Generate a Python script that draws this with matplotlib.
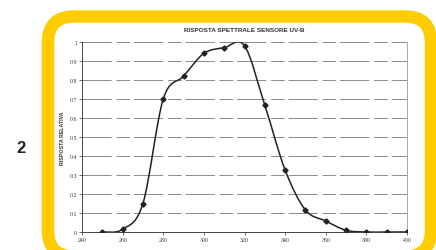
import numpy as np
import matplotlib
matplotlib.use("Agg")
import matplotlib.pyplot as plt
from matplotlib.patches import FancyBboxPatch, PathPatch
from matplotlib.path import Path

# data
wavelength = [250, 260, 270, 280, 290, 300, 310, 320, 330, 340, 350, 360, 370, 380, 390, 400]
response = [0.0, 0.014, 0.15, 0.70, 0.82, 0.94, 0.97, 0.98, 0.667, 0.326, 0.116, 0.058, 0.009, 0.0, 0.0, 0.0]
y_ticks = [0, 0.1, 0.2, 0.3, 0.4, 0.5, 0.6, 0.7, 0.8, 0.9, 1]
y_labels = ["0", "0.1", "0.2", "0.3", "0.4", "0.5", "0.6", "0.7", "0.8", "0.9", "1"]
x_ticks = [240, 260, 280, 300, 320, 340, 360, 380, 400]

W, H = 436, 251
fig = plt.figure(figsize=(W / 100, H / 100), dpi=100)

# background layer in pixel coordinates
bg = fig.add_axes([0, 0, 1, 1])
bg.set_xlim(0, W)
bg.set_ylim(H, 0)
bg.axis("off")
box = FancyBboxPatch((48, 17.5), 383, 240, boxstyle="round,pad=0,rounding_size=26",
                     facecolor="white", edgecolor="#FFCC00", linewidth=9)
bg.add_patch(box)
bg.text(21, 149, "2", fontsize=12, fontweight="bold", family="Liberation Sans",
        ha="center", va="center", color="#222222")

# chart area
ax = fig.add_axes([82 / W, (H - 233) / H, 325 / W, 190 / H])
ax.set_xlim(240, 400)
ax.set_ylim(0, 1)
ax.set_facecolor("none")

for yv in y_ticks[1:]:
    ax.axhline(yv, color="#8a8a8a", lw=0.7, linestyle=(0, (30, 5, 14, 4)), zorder=1)

# smoothed line like Excel's (Catmull-Rom style bezier through the points)
pts = np.column_stack([wavelength, response])
verts = [tuple(pts[0])]
codes = [Path.MOVETO]
for i in range(len(pts) - 1):
    p0 = pts[i - 1] if i > 0 else pts[i]
    p1 = pts[i]
    p2 = pts[i + 1]
    p3 = pts[i + 2] if i + 2 < len(pts) else pts[i + 1]
    c1 = p1 + (p2 - p0) / 6
    c2 = p2 - (p3 - p1) / 6
    verts += [tuple(c1), tuple(c2), tuple(p2)]
    codes += [Path.CURVE4] * 3
ax.add_patch(PathPatch(Path(verts, codes), facecolor="none", edgecolor="#222222", lw=1.1, zorder=3))
ax.plot(wavelength, response, linestyle="none", marker="D", markersize=2.6, color="#222222", zorder=4)

ax.set_xticks(x_ticks)
ax.set_yticks(y_ticks)
ax.set_yticklabels(y_labels)
ax.tick_params(labelsize=4.2, length=2, width=0.5, pad=1.5, colors="#333333")
for lab in ax.get_xticklabels() + ax.get_yticklabels():
    lab.set_family("Liberation Serif")

for s in ["left", "bottom"]:
    ax.spines[s].set_color("#444444")
    ax.spines[s].set_linewidth(0.7)
ax.spines["right"].set_color("#999999")
ax.spines["right"].set_linewidth(0.6)
ax.spines["top"].set_visible(False)

ax.set_title("RISPOSTA SPETTRALE SENSORE UV-B", fontsize=4.6, fontweight="bold",
             family="Liberation Sans", color="#333333", pad=8)
ax.set_ylabel("RISPOSTA RELATIVA", fontsize=3.8, fontweight="bold",
              family="Liberation Sans", color="#333333", labelpad=3)

fig.savefig("out.png", dpi=100)
